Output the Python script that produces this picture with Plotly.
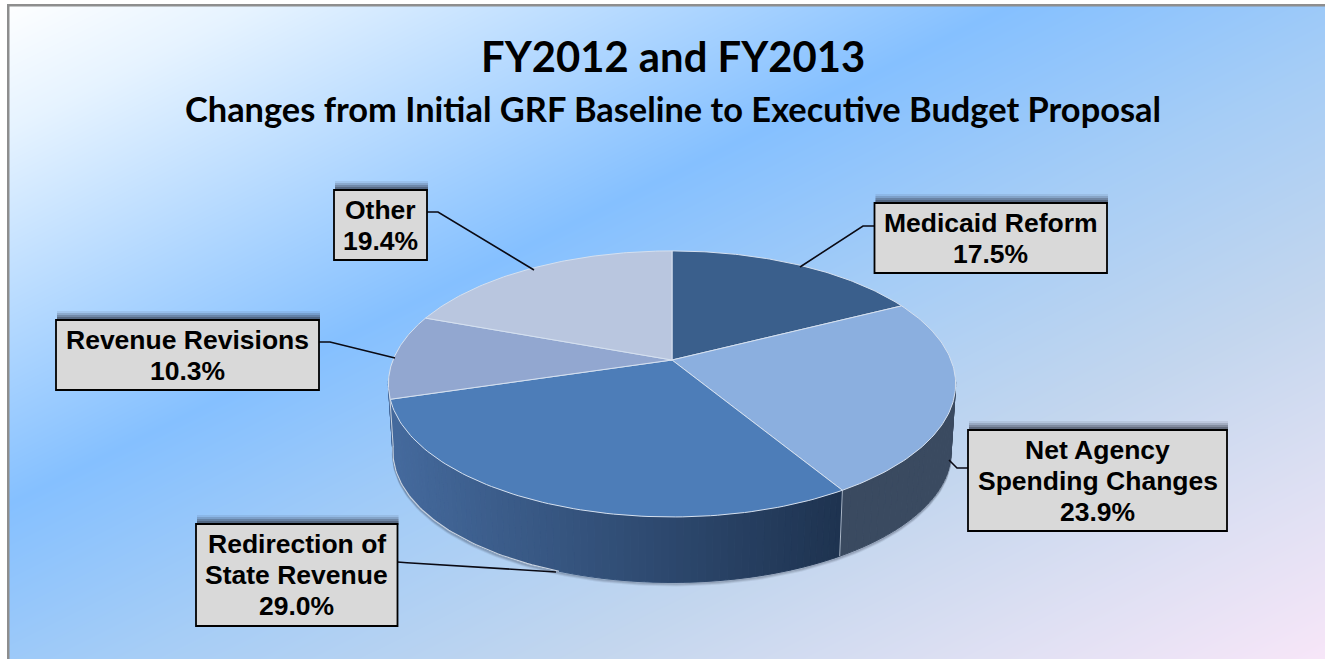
import numpy as np
import plotly.graph_objects as go

# ---- data (clockwise from 12 o'clock)
categories = ["Medicaid Reform", "Net Agency<br>Spending Changes", "Redirection of<br>State Revenue",
              "Revenue Revisions", "Other"]
values = [17.5, 23.9, 29.0, 10.3, 19.4]
top_colors = ["#3a5f8c", "#8bafdf", "#4d7db8", "#92a7d0", "#b9c6df"]
title_text = "FY2012 and FY2013"
subtitle_text = "Changes from Initial GRF Baseline to Executive Budget Proposal"

W, H = 1325, 659
CX, CY, A, B, K = 672.0, 360.0, 279.0, 128.7, 0.18   # perspective of the pie's top face
BOT_S, BOT_Y = 0.984, 428.0                           # bottom rim of the pie
SHARE = 360.0 / sum(values)


def rim(theta_deg, bottom=False):
    t = np.radians(theta_deg)
    X, Y = np.sin(t), np.cos(t)
    den = 1 + K * Y
    if bottom:
        return CX + BOT_S * A * X / den, BOT_Y - BOT_S * B * Y / den
    return CX + A * X / den, CY - B * Y / den


def lerp(c1, c2, f):
    a = [int(c1[i:i + 2], 16) for i in (1, 3, 5)]
    b = [int(c2[i:i + 2], 16) for i in (1, 3, 5)]
    return "rgb(%d,%d,%d)" % tuple(round(p + (q - p) * f) for p, q in zip(a, b))


fig = go.Figure()

# ---- page background: diagonal wash
gx = np.linspace(8, W, 220)
gy = np.linspace(5, H, 110)
gz = (gx[None, :] / W + gy[:, None] / H) / 2
fig.add_trace(go.Heatmap(
    x=gx, y=gy, z=gz, zmin=0, zmax=1, zsmooth="best", showscale=False, hoverinfo="skip",
    colorscale=[[0, "#ffffff"], [0.10, "#e6f3ff"], [0.385, "#85c0ff"], [0.55, "#a6cdf6"],
                [0.72, "#c3d6ee"], [0.87, "#dfe0f3"], [1, "#f7e6f8"]],
))

# ---- slice boundaries
edges = np.concatenate([[0], np.cumsum(values)]) * SHARE


def side_strip(t0, t1, color):
    xa, ya = rim(np.linspace(t0, t1, 4))
    xb, yb = rim(np.linspace(t1, t0, 4), bottom=True)
    fig.add_trace(go.Scatter(
        x=np.r_[xa, xb, xa[0]], y=np.r_[ya, yb, ya[0]], mode="lines", fill="toself",
        fillcolor=color, line=dict(color=color, width=1), hoverinfo="skip", showlegend=False))


# ---- soft shadow under the pie
ts = np.linspace(95, 262, 120)
xs, ys = rim(ts, bottom=True)
for off, alpha in ((3, 0.10), (2, 0.16), (1, 0.25)):
    fig.add_trace(go.Scatter(x=xs, y=ys + off, mode="lines", line=dict(color=f"rgba(60,70,90,{alpha})", width=2),
                             hoverinfo="skip", showlegend=False))

# ---- side walls
net_t0, net_t1 = 98.0, edges[2]
for a0, a1 in zip(np.linspace(net_t0, net_t1, 30)[:-1], np.linspace(net_t0, net_t1, 30)[1:]):
    side_strip(a0, a1, "#3a4a60")
red_t0, red_t1 = edges[2], 262.0
steps = np.linspace(red_t0, red_t1, 90)
for a0, a1 in zip(steps[:-1], steps[1:]):
    x_mid, _ = rim((a0 + a1) / 2)
    f = (x_mid - 395) / (840 - 395)
    side_strip(a0, a1, lerp("#44699c", "#1e3350", float(np.clip(f, 0, 1))))

# wall outlines
xa, ya = rim(edges[2]); xb, yb = rim(edges[2], bottom=True)
fig.add_trace(go.Scatter(x=[xa, xb], y=[ya, yb], mode="lines", line=dict(color="#aab6c6", width=1),
                         hoverinfo="skip", showlegend=False))
xs, ys = rim(np.linspace(200, 262, 60), bottom=True)
fig.add_trace(go.Scatter(x=xs, y=ys, mode="lines", line=dict(color="#c9d3e0", width=1.2),
                         hoverinfo="skip", showlegend=False))
xs0, ys0 = rim(262); xs1, ys1 = rim(262, bottom=True)
fig.add_trace(go.Scatter(x=[xs0, xs1], y=[ys0, ys1], mode="lines", line=dict(color="#c9d3e0", width=1),
                         hoverinfo="skip", showlegend=False))

# ---- top face slices
for i, c in enumerate(top_colors):
    th = np.linspace(edges[i], edges[i + 1], 90)
    px, py = rim(th)
    fig.add_trace(go.Scatter(
        x=np.r_[CX, px, CX], y=np.r_[CY, py, CY], mode="lines", fill="toself", fillcolor=c,
        line=dict(color="#d5e0ef", width=1), name=categories[i].replace("<br>", " "),
        hovertemplate="%{fullData.name}<extra></extra>", showlegend=False))

# ---- leader lines and boxes, in page pixels
boxes = [(874.5, 203, 1107, 273), (968, 430, 1227, 531), (196, 524, 397.5, 626), (56, 320, 319, 390), (334, 190, 427, 260)]
leaders = [
    ([874.5, 863, 800], [226, 226, 267]),
    ([968, 957, 949], [468, 468, 460]),
    ([397.5, 407, 556], [562, 562.7, 572]),
    ([319, 330, 395], [342, 342, 358]),
    ([427, 438, 534], [212, 212, 270]),
]
for lx, ly in leaders:
    fig.add_trace(go.Scatter(x=lx, y=ly, mode="lines", line=dict(color="#0a0a14", width=1.6),
                             hoverinfo="skip", showlegend=False))

shapes = []
# outer frame
shapes.append(dict(type="rect", x0=-4, x1=W + 6, y0=-4, y1=4, fillcolor="#ffffff", line_width=0, layer="above"))
shapes.append(dict(type="rect", x0=-4, x1=7, y0=-4, y1=H + 4, fillcolor="#ffffff", line_width=0, layer="above"))
shapes.append(dict(type="rect", x0=7, x1=W + 6, y0=4, y1=6.5, fillcolor="#8e8e8e", line_width=0, layer="above"))
shapes.append(dict(type="rect", x0=7, x1=9.5, y0=4, y1=H + 4, fillcolor="#8e8e8e", line_width=0, layer="above"))

for x0, y0, x1, y1 in boxes:
    for d, alpha in ((9, 0.10), (7, 0.18), (5, 0.26), (3, 0.34)):
        shapes.append(dict(type="rect", x0=x0 + 1, x1=x1 + 1, y0=y0 - d, y1=y0 + 1,
                           fillcolor=f"rgba(45,50,65,{alpha})", line_width=0, layer="above"))
    shapes.append(dict(type="rect", x0=x0, x1=x1, y0=y0, y1=y1, fillcolor="#d9d9d9",
                       line=dict(color="#000000", width=1.8), layer="above"))

annotations = [
    dict(x=673, y=56, text=f"<b>{title_text}</b>", showarrow=False, xref="x", yref="y",
         font=dict(family="Lato", size=41.8, color="#000000")),
    dict(x=673, y=108, text=f"<b>{subtitle_text}</b>", showarrow=False, xref="x", yref="y",
         font=dict(family="Lato", size=34.4, color="#000000")),
]
LINE = 31
for cat, val, (x0, y0, x1, y1) in zip(categories, values, boxes):
    lines = cat.split("<br>") + [f"{val:.1f}%"]
    ymid = (y0 + y1) / 2
    for j, ln in enumerate(lines):
        annotations.append(dict(x=(x0 + x1) / 2, y=ymid + (j - (len(lines) - 1) / 2) * LINE, text=f"<b>{ln}</b>",
                                showarrow=False, xref="x", yref="y", align="center",
                                font=dict(family="Liberation Sans", size=26.5, color="#000000")))

fig.update_layout(
    width=W, height=H, margin=dict(l=0, r=0, t=0, b=0), autosize=False,
    paper_bgcolor="#ffffff", plot_bgcolor="#ffffff", showlegend=False,
    xaxis=dict(range=[0, W], visible=False, fixedrange=True),
    yaxis=dict(range=[H, 0], visible=False, fixedrange=True),
    shapes=shapes, annotations=annotations,
)
fig.write_html("out.html", config=dict(displayModeBar=False),
               post_script="document.body.style.margin='0';document.body.style.overflow='hidden';")
